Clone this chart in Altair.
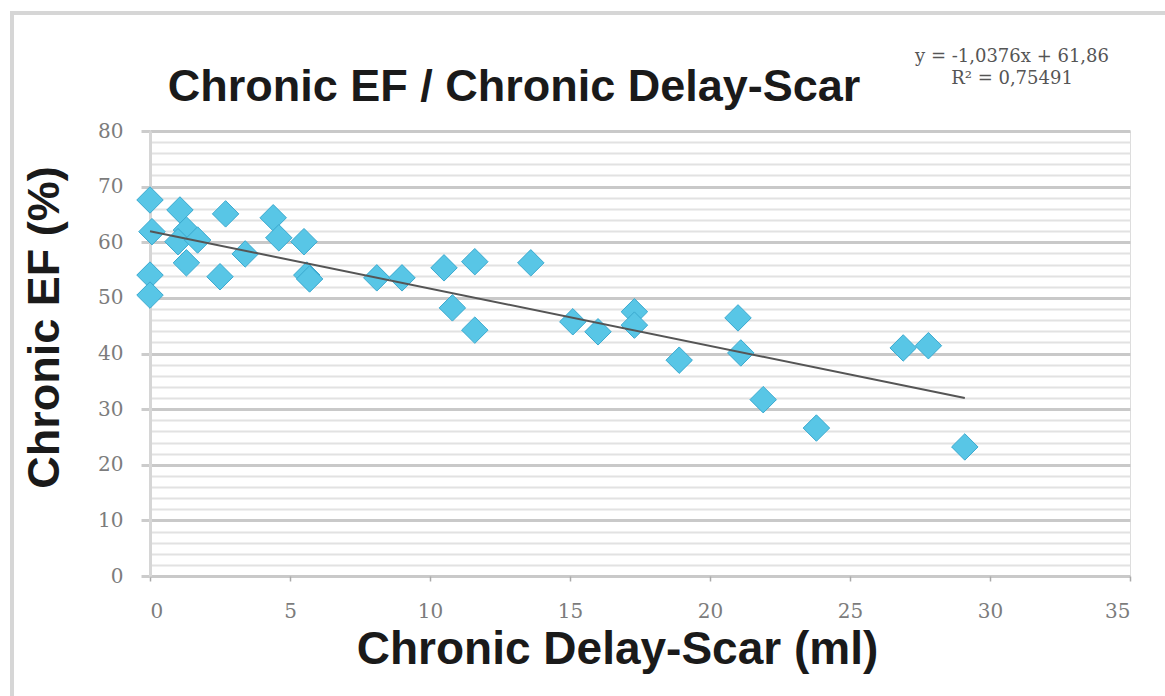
import altair as alt
import pandas as pd

# Data
delay_scar = [0.0, 0.07, 0.0, 0.0, 1.07, 1.3, 1.0, 1.7, 1.3, 2.5, 2.7, 3.4, 4.4, 4.6,
              5.5, 5.6, 5.7, 8.1, 9.0, 10.5, 11.6, 10.8, 11.6, 13.6, 15.1, 16.0,
              17.3, 17.3, 18.9, 21.0, 21.1, 21.9, 23.8, 26.9, 27.8, 29.1]
chronic_ef = [67.6, 61.9, 54.1, 50.5, 65.8, 62.2, 60.1, 60.4, 56.3, 53.8, 65.1, 57.9,
              64.4, 60.8, 60.1, 54.1, 53.4, 53.6, 53.6, 55.4, 56.5, 48.2, 44.2, 56.3,
              45.7, 43.9, 47.5, 45.1, 38.8, 46.4, 40.1, 31.7, 26.6, 41.0, 41.4, 23.2]
chart_title = ["Chronic EF / Chronic Delay-Scar"]
equation_line1 = ["y = -1,0376x + 61,86"]
equation_line2 = ["R² = 0,75491"]

df = pd.DataFrame({"x": delay_scar, "y": chronic_ef})
title_df = pd.DataFrame({"text": chart_title})
eq1_df = pd.DataFrame({"text": equation_line1})
eq2_df = pd.DataFrame({"text": equation_line2})

x_scale = alt.Scale(domain=[0, 35], nice=False, zero=True)
y_scale = alt.Scale(domain=[0, 80], nice=False)

x_axis = alt.Axis(
    values=[0, 5, 10, 15, 20, 25, 30, 35],
    title="Chronic Delay-Scar (ml)",
    titleFont="Liberation Sans", titleFontSize=46, titleFontWeight="bold",
    titleColor="#1a1a1a", titlePadding=6, titleX=467,
    labelFont="DejaVu Serif", labelFontSize=20, labelColor="#7c7c7c",
    labelPadding=20, tickSize=5, tickColor="#aaaaaa", tickWidth=1.5,
    domain=False, grid=False,
)
y_axis = alt.Axis(
    values=list(range(0, 81, 2)),
    title="Chronic EF (%)",
    titleFont="Liberation Sans", titleFontSize=45, titleFontWeight="bold",
    titleColor="#1a1a1a", titlePadding=30, titleY=196,
    labelFont="DejaVu Serif", labelFontSize=20, labelColor="#7c7c7c",
    labelExpr="datum.value % 10 === 0 ? datum.label : ''",
    labelPadding=18,
    tickSize=9,
    tickColor="#cccccc", tickWidth=3,
    tickOpacity={"condition": {"test": "datum.value % 10 === 0", "value": 1}, "value": 0},
    domain=True, domainColor="#d6d6d6", domainWidth=3,
    grid=True,
    gridColor={"condition": {"test": "datum.value % 10 === 0", "value": "#c9c9c9"}, "value": "#e2e2e2"},
    gridWidth={"condition": {"test": "datum.value % 10 === 0", "value": 3}, "value": 2},
)

base = alt.Chart(df)

points = base.mark_point(
    shape="diamond", filled=True, size=700, color="#58c6e6",
    stroke="#3aa9cf", strokeWidth=1, opacity=1,
).encode(
    x=alt.X("x:Q", scale=x_scale, axis=x_axis),
    y=alt.Y("y:Q", scale=y_scale, axis=y_axis),
)

trend = base.transform_regression("x", "y", method="linear").mark_line(
    color="#555555", strokeWidth=2
).encode(
    x=alt.X("x:Q", scale=x_scale, axis=x_axis),
    y=alt.Y("y:Q", scale=y_scale, axis=y_axis),
)

title_text = alt.Chart(title_df).mark_text(
    font="Liberation Sans", fontSize=45, fontWeight="bold", color="#1a1a1a",
    align="center", baseline="alphabetic",
).encode(x=alt.value(364), y=alt.value(-30), text="text:N")

eq1 = alt.Chart(eq1_df).mark_text(
    font="DejaVu Serif", fontSize=18, color="#555555", align="center", baseline="middle"
).encode(x=alt.value(862), y=alt.value(-74), text="text:N")

eq2 = alt.Chart(eq2_df).mark_text(
    font="DejaVu Serif", fontSize=18, color="#555555", align="center", baseline="middle"
).encode(x=alt.value(862), y=alt.value(-52), text="text:N")

frame = alt.Chart(title_df).mark_rect(
    fill=None, stroke="#d6d6d6", strokeWidth=4
).encode(
    x=alt.value(-138), x2=alt.value(1100),
    y=alt.value(-118), y2=alt.value(700),
)

chart = alt.layer(frame, points, trend, title_text, eq1, eq2).properties(
    width=980,
    height=445,
    autosize=alt.AutoSizeParams(type="none"),
    padding={"left": 150, "top": 131, "right": 35, "bottom": 120},
).configure_view(stroke=None).configure(background="white")

chart.save("out.html", embed_options={"renderer": "svg", "actions": False})
